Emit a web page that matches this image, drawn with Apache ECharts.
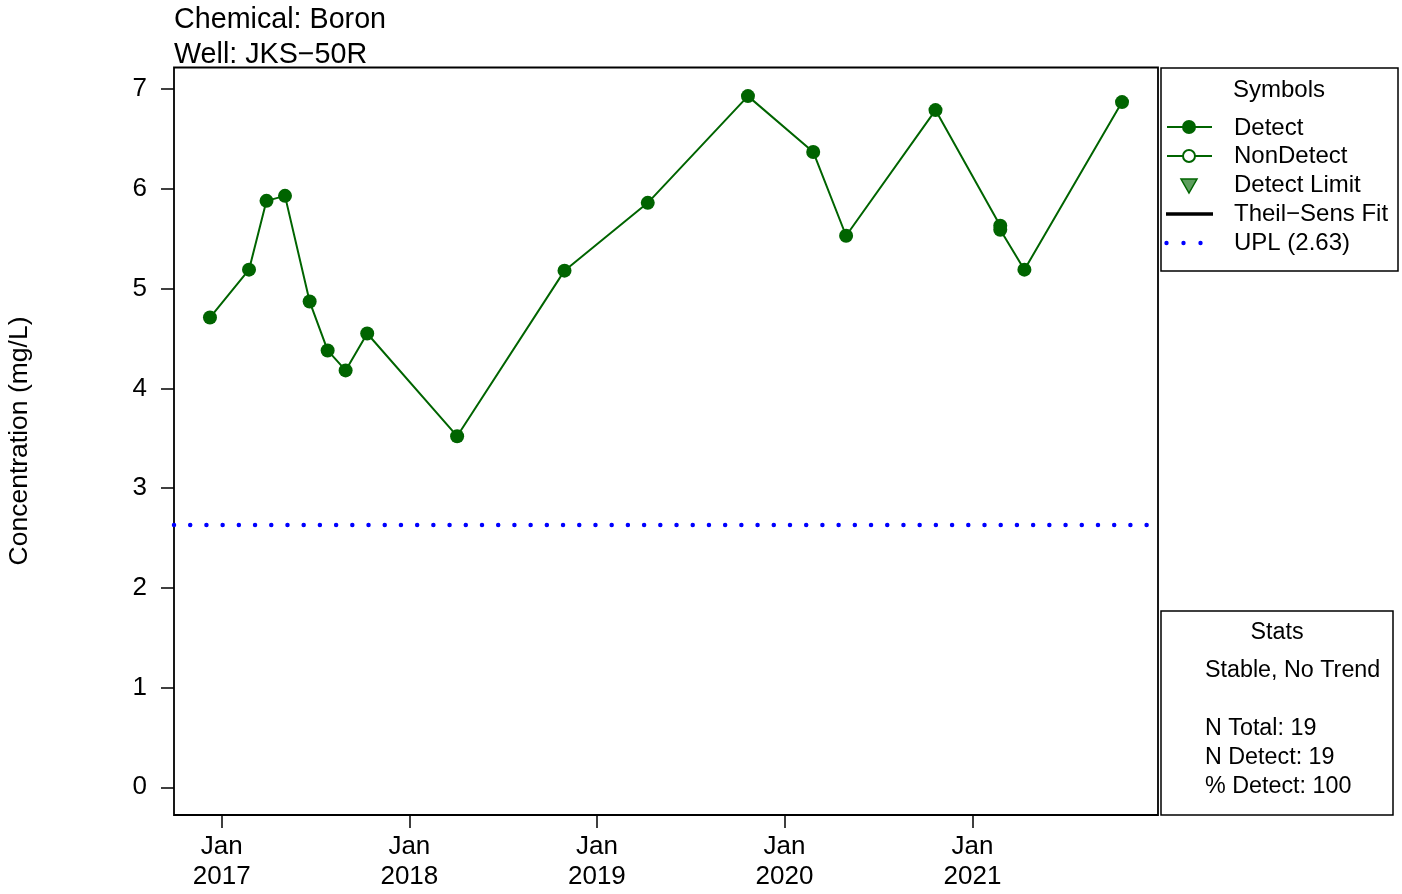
<!DOCTYPE html>
<html>
<head>
<meta charset="utf-8">
<script src="https://cdn.jsdelivr.net/npm/echarts@6/dist/echarts.min.js"></script>
<style>
  html, body { margin: 0; padding: 0; background: #fff; }
  #chart { width: 1402px; height: 894px; }
</style>
</head>
<body>
<div id="chart"></div>
<script>
// Boron sampling record for well JKS-50R
const sampleDates = [
  '2016-12-09', '2017-02-23', '2017-03-29', '2017-05-04', '2017-06-21',
  '2017-07-26', '2017-08-30', '2017-10-11', '2018-04-04', '2018-10-30',
  '2019-04-10', '2019-10-22', '2020-02-26', '2020-04-30', '2020-10-21',
  '2021-02-24', '2021-02-24', '2021-04-12', '2021-10-19'
];
const concentrations = [
  4.71, 5.19, 5.88, 5.93, 4.87,
  4.38, 4.18, 4.55, 3.52, 5.18,
  5.86, 6.93, 6.37, 5.53, 6.79,
  5.63, 5.59, 5.19, 6.87
];
const uplValue = 2.63;
const yTickValues = [0, 1, 2, 3, 4, 5, 6, 7];
const xTickDates = ['2017-01-01', '2018-01-01', '2019-01-01', '2020-01-01', '2021-01-01'];
const xRange = ['2016-09-30', '2021-12-28'];
const yRange = [-0.278, 7.217];

const FONT = "'Liberation Sans', Arial, Helvetica, sans-serif";
const GREEN = '#006400';
const t = s => Date.parse(s);   // UTC milliseconds

const points = sampleDates.map((d, i) => [t(d), concentrations[i]]);
const xMin = t(xRange[0]);
const xMax = t(xRange[1]);
const xTicks = xTickDates.map(t);

const chart = echarts.init(document.getElementById('chart'), null, { renderer: 'canvas' });

// legend and stats panels on the right side
const legendX = 1161, legendY = 68, legendW = 237, legendH = 203;
const statsX = 1161, statsY = 611, statsW = 232, statsH = 204;
const symX = 1189, textX = 1234;

const legendText = (y, text) => ({ type: 'text', x: textX, y: y,
  style: { text: text, font: '24px ' + FONT, fill: '#000', verticalAlign: 'middle' } });
const statsText = (y, text) => ({ type: 'text', x: 1205, y: y,
  style: { text: text, font: '23.3px ' + FONT, fill: '#000', verticalAlign: 'middle' } });

const graphics = [
  { type: 'text', left: 174, top: 6, style: { text: 'Chemical: Boron', font: '28.7px ' + FONT, fill: '#000' } },
  { type: 'text', left: 174, top: 41, style: { text: 'Well: JKS\u221250R', font: '28.7px ' + FONT, fill: '#000' } },
  { type: 'text', x: 20, y: 441, rotation: Math.PI / 2,
    style: { text: 'Concentration (mg/L)', font: '26.5px ' + FONT, fill: '#000', align: 'center', verticalAlign: 'middle' } },

  { type: 'rect', shape: { x: legendX, y: legendY, width: legendW, height: legendH },
    style: { fill: '#fff', stroke: '#000', lineWidth: 1.5 } },
  { type: 'text', x: 1279, y: 90, style: { text: 'Symbols', font: '24px ' + FONT, fill: '#000', align: 'center', verticalAlign: 'middle' } },

  { type: 'line', shape: { x1: 1167, y1: 127, x2: 1212, y2: 127 }, style: { stroke: GREEN, lineWidth: 2 } },
  { type: 'circle', shape: { cx: symX, cy: 127, r: 7 }, style: { fill: GREEN } },
  legendText(128, 'Detect'),

  { type: 'line', shape: { x1: 1167, y1: 156, x2: 1212, y2: 156 }, style: { stroke: GREEN, lineWidth: 2 } },
  { type: 'circle', shape: { cx: symX, cy: 156, r: 6 }, style: { fill: '#fff', stroke: GREEN, lineWidth: 2 } },
  legendText(156, 'NonDetect'),

  { type: 'polygon', shape: { points: [[1181, 179], [1197, 179], [1189, 193]] },
    style: { fill: '#5e9e5e', stroke: GREEN, lineWidth: 1.5 } },
  legendText(185, 'Detect Limit'),

  { type: 'line', shape: { x1: 1166, y1: 214, x2: 1213, y2: 214 }, style: { stroke: '#000', lineWidth: 3.5 } },
  legendText(214, 'Theil\u2212Sens Fit'),

  { type: 'circle', shape: { cx: 1166.5, cy: 243, r: 2.2 }, style: { fill: '#0000ff' } },
  { type: 'circle', shape: { cx: 1183.5, cy: 243, r: 2.2 }, style: { fill: '#0000ff' } },
  { type: 'circle', shape: { cx: 1200.5, cy: 243, r: 2.2 }, style: { fill: '#0000ff' } },
  legendText(243, 'UPL (' + uplValue.toFixed(2) + ')'),

  { type: 'rect', shape: { x: statsX, y: statsY, width: statsW, height: statsH },
    style: { fill: '#fff', stroke: '#000', lineWidth: 1.5 } },
  { type: 'text', x: 1277, y: 633, style: { text: 'Stats', font: '23.3px ' + FONT, fill: '#000', align: 'center', verticalAlign: 'middle' } },
  statsText(671, 'Stable, No Trend'),
  statsText(729, 'N Total: ' + concentrations.length),
  statsText(758, 'N Detect: ' + concentrations.length),
  statsText(787, '% Detect: 100')
];

chart.setOption({
  animation: false,
  backgroundColor: '#fff',
  textStyle: { fontFamily: FONT },
  grid: {
    left: 174, top: 67.5, width: 984, height: 747.5,
    show: true, borderColor: '#000', borderWidth: 1.8, backgroundColor: 'transparent',
    containLabel: false, outerBoundsMode: 'none'
  },
  xAxis: {
    type: 'value',
    min: xMin, max: xMax,
    scale: true,
    axisLine: { show: false, onZero: false },
    splitLine: { show: false },
    axisTick: { show: true, inside: false, length: 13, customValues: xTicks, lineStyle: { color: '#000', width: 1.5 } },
    axisLabel: {
      customValues: xTicks,
      margin: 17,
      color: '#000', fontSize: 26, lineHeight: 30, fontFamily: FONT,
      hideOverlap: false,
      formatter: v => 'Jan\n' + new Date(v).getUTCFullYear()
    }
  },
  yAxis: {
    type: 'value',
    min: yRange[0], max: yRange[1],
    axisLine: { show: false, onZero: false },
    splitLine: { show: false },
    axisTick: { show: true, inside: false, length: 13, customValues: yTickValues, lineStyle: { color: '#000', width: 1.5 } },
    axisLabel: { customValues: yTickValues, margin: 27, color: '#000', fontSize: 26, fontFamily: FONT }
  },
  series: [
    {
      name: 'UPL',
      type: 'line',
      data: [[xMin, uplValue], [xMax, uplValue]],
      symbol: 'none',
      silent: true,
      lineStyle: { color: '#0000ff', width: 4.5, type: [0.01, 16.2], cap: 'round' },
      z: 1
    },
    {
      name: 'Detect',
      type: 'line',
      data: points,
      symbol: 'circle',
      symbolSize: 14,
      showAllSymbol: true,
      itemStyle: { color: GREEN, borderWidth: 0 },
      lineStyle: { color: GREEN, width: 2 },
      emphasis: { disabled: true },
      z: 3
    }
  ],
  graphic: graphics
});
</script>
</body>
</html>
